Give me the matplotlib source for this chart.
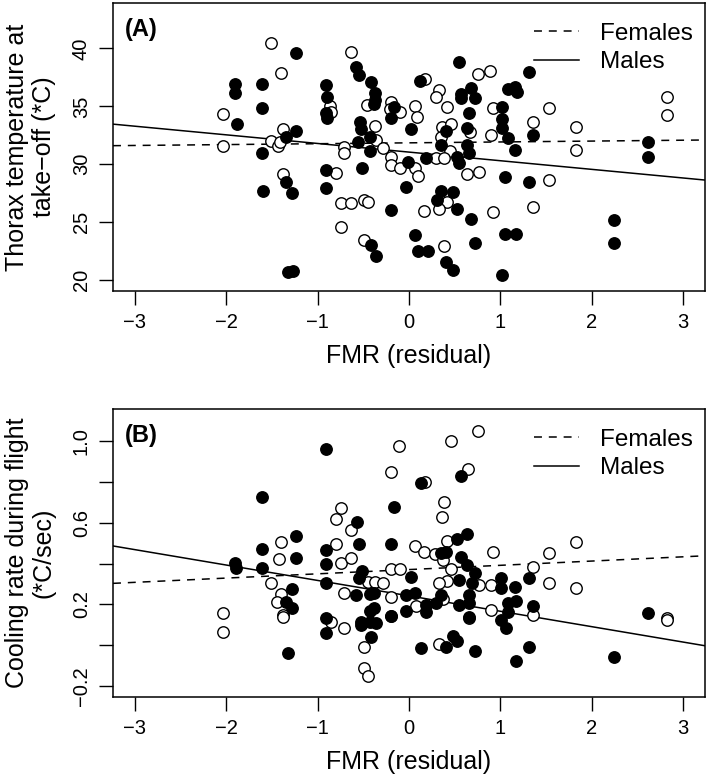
import numpy as np
import matplotlib
matplotlib.use('Agg')
import matplotlib.pyplot as plt
from matplotlib.lines import Line2D

plt.rcParams['font.family'] = ['Liberation Sans', 'DejaVu Sans']

# Panel A: thorax temperature at take-off vs FMR residual
a_open_x = [-1.51, -1.40, -0.64, -2.04, -0.86, -0.85, -0.46, -0.20, -0.21, -0.10,
            -0.37, 0.07, 0.09, -1.38, -1.51, -1.43, -1.41, -2.04, -0.36, -0.71,
            -0.71, -0.28, -0.20, -0.20, -0.10, 0.07, 0.10, -0.80, -1.38, -0.75,
            -0.63, -0.49, -0.45, -0.75, -0.49,
            0.17, 0.33, 0.29, 0.76, 0.89, 0.42, 0.92, 1.53, 2.82, 2.82,
            1.36, 1.83, 1.83, 0.36, 0.46, 0.35, 0.67, 0.90, 0.45, 0.29,
            0.38, 0.64, 0.77, 1.53, 0.42, 0.33, 0.16, 0.92, 1.36, 0.38]
a_open_y = [40.44, 37.9, 39.66, 34.3, 35.03, 34.54, 35.1, 35.4, 34.8, 34.5,
            33.33, 35.03, 34.1, 33.04, 32.0, 31.6, 31.95, 31.6, 32.09, 31.51,
            30.94, 31.43, 30.59, 29.93, 29.64, 29.64, 29.0, 29.27, 29.15, 26.68,
            26.68, 26.9, 26.7, 24.6, 23.5,
            37.36, 36.4, 35.83, 37.79, 38.08, 34.97, 34.9, 34.88, 35.83, 34.25,
            33.67, 33.18, 31.23, 33.24, 33.47, 32.38, 32.75, 32.52, 31.17, 30.53,
            30.53, 29.2, 29.36, 28.64, 26.76, 26.13, 25.96, 25.84, 26.28, 22.96]

a_fill_x = [-1.24, -1.91, -1.91, -1.61, -1.61, -1.88, -0.58, -0.55, -0.42, -0.91,
            -0.90, -0.91, -0.90, -0.37, -0.37, -0.38, -0.16, -0.20, -0.54, -0.53,
            0.02, 0.12, -1.24, -1.35, -1.61, -0.56, -0.43, -0.43, -0.01, -0.51,
            -0.91, -1.35, -1.28, -1.60, -0.91, -0.03, -0.20, -0.42, -0.36, -1.33,
            -1.27, 0.07, 0.10,
            0.55, 1.31, 0.57, 0.57, 0.68, 0.72, 1.08, 1.16, 1.18, 0.66,
            1.02, 1.02, 1.02, 1.36, 0.41, 0.63, 1.08, 1.16, 0.35, 0.63,
            0.66, 0.19, 0.52, 0.55, 1.05, 1.31, 2.62, 2.62, 0.35, 0.48,
            0.31, 0.52, 0.68, 2.24, 2.24, 0.72, 1.05, 1.17, 0.21, 0.41,
            0.48, 1.02]
a_fill_y = [39.63, 36.9, 36.18, 36.9, 34.88, 33.44, 38.42, 37.7, 37.13, 36.84,
            35.83, 34.4, 33.96, 36.12, 35.54, 35.2, 34.97, 33.96, 33.67, 33.04,
            33.04, 37.18, 32.87, 32.38, 31.0, 31.95, 32.38, 31.14, 30.16, 29.7,
            29.5, 28.43, 27.48, 27.71, 27.92, 28.06, 26.05, 23.0, 22.1, 20.72,
            20.78, 23.9, 22.5,
            38.8, 38.0, 36.03, 35.7, 36.6, 35.7, 36.5, 36.64, 36.26, 34.4,
            34.97, 33.9, 33.1, 32.52, 32.9, 33.1, 32.23, 31.23, 31.66, 31.63,
            30.97, 30.5, 30.65, 30.13, 28.87, 28.5, 31.95, 30.6, 27.71, 27.57,
            26.9, 26.13, 25.27, 25.18, 23.17, 23.17, 23.94, 23.94, 22.5, 21.58,
            20.86, 20.43]

# Panel B: cooling rate during flight vs FMR residual
b_open_x = [-0.11, -0.20, -0.75, -0.80, -0.63, -1.40, -0.80, 0.07, -1.42, -0.75,
            -0.63, -0.20, -0.10, -1.51, -0.45, -0.37, -0.28, -0.71, -0.20, 0.08,
            -1.40, -1.44, -1.38, -1.38, -2.04, -2.04, -0.85, -0.71, -0.20, -0.49,
            -0.49, -0.45,
            0.76, 0.46, 0.65, 0.17, 0.38, 0.36, 1.83, 0.42, 0.16, 0.28,
            0.37, 0.92, 1.53, 1.36, 0.46, 0.42, 0.33, 0.77, 0.90, 1.53,
            1.83, 0.37, 0.66, 0.90, 1.36, 2.82, 2.82, 0.33]
b_open_y = [0.976, 0.849, 0.67, 0.616, 0.564, 0.504, 0.496, 0.486, 0.42, 0.404,
            0.425, 0.373, 0.373, 0.303, 0.308, 0.311, 0.303, 0.254, 0.238, 0.192,
            0.251, 0.21, 0.148, 0.137, 0.16, 0.067, 0.116, 0.083, 0.143, -0.007,
            -0.112, -0.148,
            1.05, 1.0, 0.862, 0.797, 0.703, 0.629, 0.507, 0.512, 0.458, 0.445,
            0.417, 0.455, 0.45, 0.385, 0.373, 0.316, 0.303, 0.295, 0.295, 0.306,
            0.279, 0.225, 0.132, 0.173, 0.148, 0.135, 0.124, 0.007]

b_fill_x = [-0.91, -1.61, -0.16, -0.57, -1.24, -1.61, -0.91, -0.55, -0.20, -1.24,
            -0.91, -1.91, -1.89, -1.61, -0.51, -0.55, 0.02, -0.91, -0.58, -0.43,
            -0.38, -0.03, 0.06, -0.03, -1.28, -1.35, -1.28, -0.91, -0.91, -0.53,
            -0.53, -0.43, -0.38, -0.43, -0.36, -0.20, -0.42, -1.33, 0.13,
            0.57, 0.13, 0.63, 0.52, 0.35, 0.41, 0.57, 0.63, 0.72, 0.55,
            0.69, 1.01, 1.01, 1.16, 1.31, 0.19, 0.19, 0.29, 0.35, 0.55,
            0.66, 0.66, 0.66, 1.08, 1.17, 1.08, 1.01, 1.06, 1.36, 2.62,
            0.48, 0.52, 0.41, 0.72, 1.31, 1.17, 2.24]
b_fill_y = [0.958, 0.727, 0.675, 0.605, 0.535, 0.469, 0.466, 0.496, 0.496, 0.425,
            0.398, 0.404, 0.377, 0.377, 0.363, 0.328, 0.336, 0.306, 0.246, 0.251,
            0.258, 0.246, 0.254, 0.17, 0.274, 0.214, 0.181, 0.132, 0.062, 0.116,
            0.10, 0.168, 0.181, 0.116, 0.108, 0.143, 0.039, -0.036, -0.015,
            0.83, 0.795, 0.544, 0.52, 0.45, 0.458, 0.434, 0.393, 0.352, 0.319,
            0.306, 0.331, 0.279, 0.287, 0.331, 0.197, 0.165, 0.205, 0.246, 0.197,
            0.246, 0.205, 0.14, 0.205, 0.217, 0.165, 0.124, 0.083, 0.192, 0.16,
            0.046, 0.023, -0.01, -0.028, -0.01, -0.075, -0.055]

# fitted lines (intercept, slope)
a_fem_fit = (31.85, 0.0756)
a_male_fit = (31.05, -0.745)
b_fem_fit = (0.3705, 0.0208)
b_male_fit = (0.242, -0.0753)

xlim = (-3.24, 3.24)
x_ticks = [-3, -2, -1, 0, 1, 2, 3]
dash = (5.2, 4.5)

fig = plt.figure(figsize=(7.09, 7.78), dpi=100)
ax_a = fig.add_axes([0.1594, 0.6263, 0.835, 0.3695])
ax_b = fig.add_axes([0.1594, 0.1045, 0.835, 0.3694])


def draw_panel(ax, ox, oy, fx, fy, fem_fit, male_fit, ylim, yticks, ylabels, ylab, tag):
    ax.scatter(ox, oy, s=68, facecolors='white', edgecolors='black', linewidths=1.0, zorder=3)
    ax.scatter(fx, fy, s=68, facecolors='black', edgecolors='black', linewidths=1.0, zorder=3)
    xs = np.array(xlim)
    ax.plot(xs, fem_fit[0] + fem_fit[1] * xs, color='black', lw=1.1, dashes=dash, zorder=2)
    ax.plot(xs, male_fit[0] + male_fit[1] * xs, color='black', lw=1.1, zorder=2)
    ax.set_xlim(xlim)
    ax.set_ylim(ylim)
    ax.set_xticks(x_ticks)
    ax.set_yticks(yticks)
    ax.set_yticklabels(ylabels, rotation=90, va='center')
    ax.tick_params(direction='out', length=10, width=1.0, labelsize=14.5, pad=6)
    for sp in ax.spines.values():
        sp.set_linewidth(1.1)
    ax.set_xlabel('FMR (residual)', fontsize=18, labelpad=9)
    ax.set_ylabel(ylab, fontsize=18, va='center', linespacing=1.15)
    ax.yaxis.set_label_coords(-0.14, 0.5)
    ax.text(0.02, 0.95, tag, transform=ax.transAxes, fontsize=17, fontweight='bold',
            ha='left', va='top')
    handles = [Line2D([], [], color='black', lw=1.1, dashes=dash),
               Line2D([], [], color='black', lw=1.1)]
    ax.legend(handles, ['Females', 'Males'], loc='upper right', frameon=False,
              bbox_to_anchor=(1.0, 0.975), fontsize=17.5, handlelength=1.85,
              handletextpad=0.85, labelspacing=0.28, borderaxespad=0.2, borderpad=0.3)


draw_panel(ax_a, a_open_x, a_open_y, a_fill_x, a_fill_y, a_fem_fit, a_male_fit,
           (19.08, 43.9), [20, 25, 30, 35, 40], ['20', '25', '30', '35', '40'],
           'Thorax temperature at\ntake\u2212off (*C)', '(A)')
draw_panel(ax_b, b_open_x, b_open_y, b_fill_x, b_fill_y, b_fem_fit, b_male_fit,
           (-0.251, 1.154), [-0.2, 0.0, 0.2, 0.4, 0.6, 0.8, 1.0],
           ['\u22120.2', '', '0.2', '', '0.6', '', '1.0'],
           'Cooling rate during flight\n(*C/sec)', '(B)')

plt.savefig('out.png', dpi=100)
plt.close()
